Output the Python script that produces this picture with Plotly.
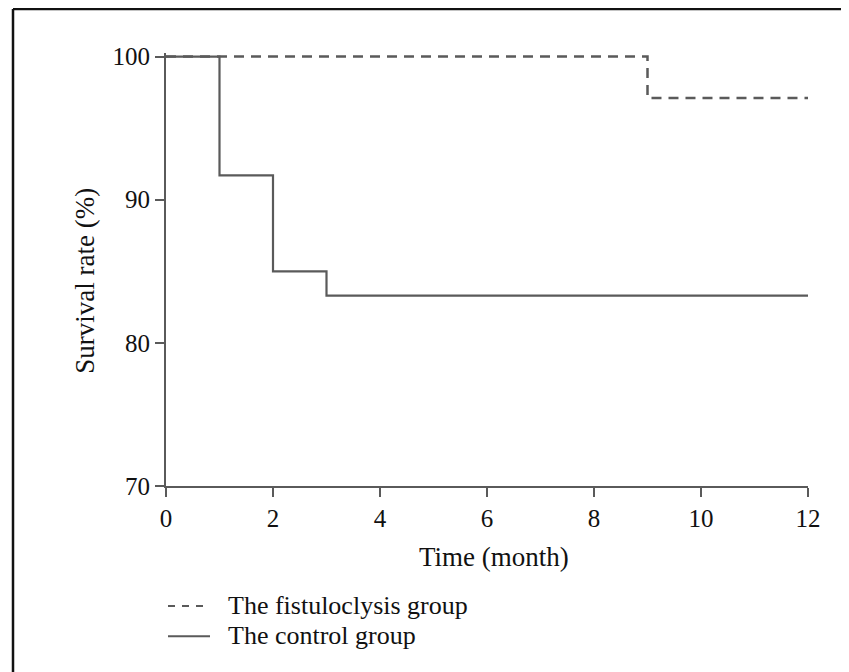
import plotly.graph_objects as go

# Data
fist_time = [0, 9, 9, 12]
fist_surv = [100, 100, 97.1, 97.1]
ctrl_time = [0, 1, 1, 2, 2, 3, 3, 12]
ctrl_surv = [100, 100, 91.7, 91.7, 85.0, 85.0, 83.3, 83.3]
x_ticks = [0, 2, 4, 6, 8, 10, 12]
y_ticks = [70, 80, 90, 100]
legend_names = ["The fistuloclysis group", "The control group"]

W, H = 857, 680
OFF = 8  # page body margin
Y_TOP = 100.25
PX_PER_UNIT = (486 - 57) / 30.0
L, R, B = 166, 808, 486  # plot area in screen pixels
T = 57 - (Y_TOP - 100) * PX_PER_UNIT
LINE = "#5a5a5a"
TXT = "#111111"
FONT = "Liberation Serif"

def px(x):
    return (x - L) / (R - L)

def py(y):
    return (B - y) / (B - T)

fig = go.Figure()
fig.add_trace(go.Scatter(x=fist_time, y=fist_surv, mode="lines", name=legend_names[0],
                         line=dict(color=LINE, width=2.5, dash="10px,7px"), showlegend=False))
fig.add_trace(go.Scatter(x=ctrl_time, y=ctrl_surv, mode="lines", name=legend_names[1],
                         line=dict(color=LINE, width=2.2), showlegend=False))

axis_common = dict(showgrid=False, zeroline=False, showline=True, linecolor=LINE, linewidth=2,
                   ticks="outside", tickcolor=LINE, tickwidth=2, ticklen=9,
                   tickfont=dict(family=FONT, size=25, color=TXT))
fig.update_xaxes(range=[0, 12], tickvals=x_ticks, **axis_common)
fig.update_yaxes(range=[70, Y_TOP], tickvals=y_ticks, **axis_common)

shapes = [
    # outer frame (top and left)
    dict(type="line", xref="paper", yref="paper", x0=px(13), x1=px(870), y0=py(9.5), y1=py(9.5),
         line=dict(color="#111111", width=2.5)),
    dict(type="line", xref="paper", yref="paper", x0=px(13), x1=px(13), y0=py(9.5), y1=py(700),
         line=dict(color="#111111", width=2.5)),
    # legend samples
    dict(type="line", xref="paper", yref="paper", x0=px(168), x1=px(209), y0=py(606), y1=py(606),
         line=dict(color=LINE, width=2, dash="7px,7px")),
    dict(type="line", xref="paper", yref="paper", x0=px(168), x1=px(210), y0=py(636), y1=py(636),
         line=dict(color=LINE, width=2)),
]

annotations = [
    dict(text="Time (month)", xref="paper", yref="paper", x=px(494), y=py(557),
         showarrow=False, xanchor="center", yanchor="middle",
         font=dict(family=FONT, size=27, color=TXT)),
    dict(text="Survival rate (%)", xref="paper", yref="paper", x=px(85), y=py(281),
         showarrow=False, xanchor="center", yanchor="middle", textangle=-90,
         font=dict(family=FONT, size=27, color=TXT)),
    dict(text=legend_names[0], xref="paper", yref="paper", x=px(226), y=py(605),
         showarrow=False, xanchor="left", yanchor="middle",
         font=dict(family=FONT, size=26, color=TXT)),
    dict(text=legend_names[1], xref="paper", yref="paper", x=px(226), y=py(635),
         showarrow=False, xanchor="left", yanchor="middle",
         font=dict(family=FONT, size=26, color=TXT)),
]

fig.update_layout(width=W, height=H,
                  margin=dict(l=L - OFF, r=W - (L - OFF) - (R - L), t=T - OFF,
                              b=H - (T - OFF) - (B - T)),
                  paper_bgcolor="white", plot_bgcolor="white",
                  shapes=shapes, annotations=annotations, showlegend=False)

fig.write_html("out.html")
